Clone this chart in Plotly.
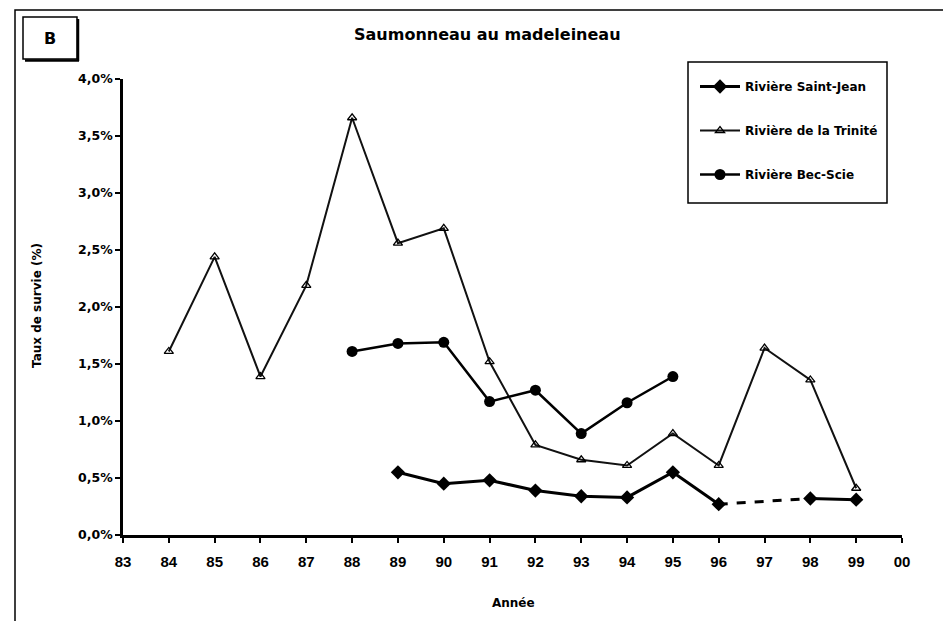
import plotly.graph_objects as go

# ---- data ----
years = [84, 85, 86, 87, 88, 89, 90, 91, 92, 93, 94, 95, 96, 97, 98, 99]
saint_jean = [None, None, None, None, None, 0.55, 0.45, 0.48, 0.39, 0.34, 0.33, 0.55, 0.27, None, 0.32, 0.31]
trinite = [1.61, 2.44, 1.39, 2.19, 3.66, 2.56, 2.69, 1.52, 0.79, 0.66, 0.61, 0.89, 0.61, 1.64, 1.36, 0.41]
bec_scie = [None, None, None, None, 1.61, 1.68, 1.69, 1.17, 1.27, 0.89, 1.16, 1.39, None, None, None, None]

x_ticks = [83, 84, 85, 86, 87, 88, 89, 90, 91, 92, 93, 94, 95, 96, 97, 98, 99, 100]
x_tick_text = ["83", "84", "85", "86", "87", "88", "89", "90", "91", "92", "93", "94", "95", "96", "97", "98", "99", "00"]
y_ticks = [0.0, 0.5, 1.0, 1.5, 2.0, 2.5, 3.0, 3.5, 4.0]
y_tick_text = ["0,0%", "0,5%", "1,0%", "1,5%", "2,0%", "2,5%", "3,0%", "3,5%", "4,0%"]

title = "Saumonneau au madeleineau"
panel = "B"
names = ["Rivière Saint-Jean", "Rivière de la Trinité", "Rivière Bec-Scie"]
x_title = "Année"
y_title = "Taux de survie (%)"

# bridge over the missing year in Saint-Jean (dashed)
i96, i98 = years.index(96), years.index(98)
bridge_x = [years[i96], years[i98]]
bridge_y = [saint_jean[i96], saint_jean[i98]]

FONT = "DejaVu Sans, sans-serif"
FONT_X = "Liberation Sans, Arial, sans-serif"
OFF = 8  # page body margin
W, H = 951 - OFF, 621 - OFF
PX0, PX1, PY0, PY1 = 123, 902, 79, 535  # plot area on screen
L, T = PX0 - OFF, PY0 - OFF
R, B = W - (PX1 - OFF), H - (PY1 - OFF)
pw, ph = PX1 - PX0, PY1 - PY0


def px(xs):
    return (xs - PX0) / pw


def py(ys):
    return (PY1 - ys) / ph


def f(size, family=FONT, weight="bold"):
    return dict(size=size, family=family, color="black", weight=weight)


fig = go.Figure()

fig.add_trace(go.Scatter(
    x=years, y=saint_jean, name=names[0], mode="lines+markers",
    line=dict(color="black", width=3),
    marker=dict(symbol="diamond", size=11, color="black"),
    legendgroup="a", connectgaps=False,
))
fig.add_trace(go.Scatter(
    x=bridge_x, y=bridge_y, mode="lines", showlegend=False,
    line=dict(color="black", width=3, dash="dash"),
))
fig.add_trace(go.Scatter(
    x=years, y=trinite, name=names[1], mode="lines+markers",
    line=dict(color="#111111", width=2),
    marker=dict(symbol="triangle-up-open", size=8, color="black", line=dict(width=1.3, color="black")),
    legendgroup="b",
))
fig.add_trace(go.Scatter(
    x=years, y=bec_scie, name=names[2], mode="lines+markers",
    line=dict(color="black", width=2.5),
    marker=dict(symbol="circle", size=11, color="black"),
    legendgroup="c",
))

shapes = [
    # outer frame
    dict(type="rect", xref="paper", yref="paper",
         x0=px(15), x1=px(980), y0=py(650), y1=py(10),
         line=dict(color="black", width=1.5)),
    # panel label box + shadow
    dict(type="rect", xref="paper", yref="paper",
         x0=px(23), x1=px(77), y0=py(59), y1=py(17),
         line=dict(color="black", width=1.5)),
    dict(type="line", xref="paper", yref="paper",
         x0=px(78), x1=px(78), y0=py(61), y1=py(19),
         line=dict(color="black", width=2.5)),
    dict(type="line", xref="paper", yref="paper",
         x0=px(25), x1=px(79), y0=py(60.5), y1=py(60.5),
         line=dict(color="black", width=2.5)),
    # legend box
    dict(type="rect", xref="paper", yref="paper",
         x0=px(688), x1=px(887), y0=py(203), y1=py(62),
         line=dict(color="black", width=1.5)),
]


def ann(text, xs, ys, font, angle=0):
    return dict(text=text, xref="paper", yref="paper", x=px(xs), y=py(ys),
                xanchor="center", yanchor="middle", showarrow=False,
                textangle=angle, font=font)


annotations = [
    ann(panel, 50, 38, f(16)),
    ann(title, 487, 34, f(16)),
    ann(x_title, 513, 603, f(12)),
    ann(y_title, 37, 306, f(12), -90),
]

fig.update_layout(
    width=W, height=H,
    margin=dict(l=L, r=R, t=T, b=B),
    paper_bgcolor="white", plot_bgcolor="white",
    font=f(12),
    showlegend=True,
    legend=dict(
        x=px(695), y=py(72), xanchor="left", yanchor="top",
        bgcolor="rgba(0,0,0,0)", borderwidth=0,
        tracegroupgap=25, itemwidth=40,
        font=f(12),
    ),
    shapes=shapes,
    annotations=annotations,
    xaxis=dict(
        range=[83, 100], tickvals=x_ticks, ticktext=x_tick_text,
        showgrid=False, zeroline=False, showline=True, linecolor="black", linewidth=2.5,
        ticks="outside", ticklen=5, tickwidth=2, tickcolor="black",
        ticklabelstandoff=6,
        tickfont=f(15, FONT_X, "bold"),
    ),
    yaxis=dict(
        range=[0, 4.0], tickvals=y_ticks, ticktext=y_tick_text,
        showgrid=False, zeroline=False, showline=True, linecolor="black", linewidth=2.5,
        ticks="outside", ticklen=5, tickwidth=2, tickcolor="black",
        tickfont=f(12.5),
    ),
)

fig.write_html("out.html")
